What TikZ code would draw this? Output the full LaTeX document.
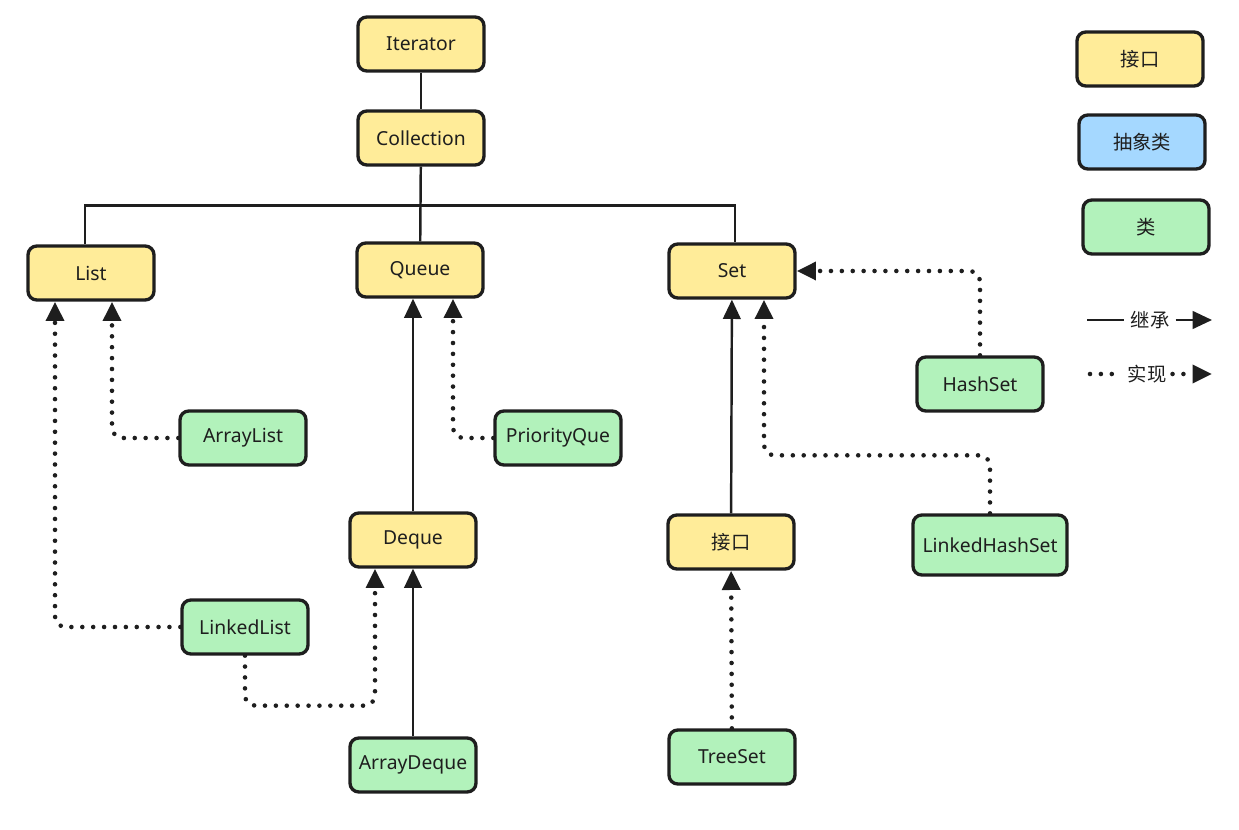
\documentclass[tikz,border=0pt]{standalone}
\usepackage{fontspec}
\setmainfont{Noto Sans}
\newfontfamily\cjk{Noto Sans CJK SC}
\usetikzlibrary{arrows.meta}

\definecolor{ink}{HTML}{1E1E1E}
\definecolor{intfy}{HTML}{FFEC99}
\definecolor{abscb}{HTML}{A5D8FF}
\definecolor{clsg}{HTML}{B2F2BB}

\tikzset{
  box/.style={draw=ink, line width=1.9pt, rounded corners=5pt, minimum width=2.52cm,
    minimum height=1.08cm, text=ink, font=\fontsize{11}{13}\selectfont},
  intf/.style={box, fill=intfy},
  absc/.style={box, fill=abscb},
  cls/.style={box, fill=clsg},
  line/.style={draw=ink, line width=1.4pt},
  inh/.style={line, -{Triangle[length=11pt,width=10pt]}},
  dots/.style={draw=ink, line width=2.6pt, line cap=round, dash pattern=on 0pt off 6.2pt, rounded corners=6pt},
  impl/.style={dots, -{Triangle[length=11pt,width=10pt]}}
}

\begin{document}
\begin{tikzpicture}[x=0.02cm, y=-0.02cm]
  \useasboundingbox (0,0) rectangle (1239,830);
  % interfaces and classes: name/x/y/text
  \foreach \n/\x/\y/\t in {iter/421/44/Iterator, coll/421/138/Collection, list/91/273/List,
      queue/420/270/Queue, set/732/271/Set, deque/413/540/Deque, sif/731/542/{\cjk 接口}}
    {\node[intf] (\n) at (\x,\y) {\t};}
  \foreach \n/\x/\y/\t in {alist/243/438/ArrayList, pque/558/438/PriorityQue, hset/980/384/HashSet,
      llist/245/627/LinkedList, adeque/413/765/ArrayDeque, tset/732/757/TreeSet}
    {\node[cls] (\n) at (\x,\y) {\t};}
  \node[cls, minimum width=3.08cm, minimum height=1.2cm] (lhset) at (990,545) {LinkedHashSet};

  % legend
  \node[intf] (lgintf) at (1140,59) {\cjk 接口};
  \node[absc] (lgabs) at (1142,142) {\cjk 抽象类};
  \node[cls] (lgcls) at (1146,227) {\cjk 类};
  \node[text=ink, font=\fontsize{11}{13}\selectfont\cjk] (inhtxt) at (1150,320) {继承};
  \node[text=ink, font=\fontsize{11}{13}\selectfont\cjk] (imptxt) at (1147,374) {实现};
  \coordinate (inhA) at (1087,320); \coordinate (inhB) at (1212,320);
  \coordinate (impA) at (1090,374); \coordinate (impB) at (1212,374);
  \draw[line] (inhA) -- (inhtxt.west);
  \draw[inh] (inhtxt.east) -- (inhB);
  \draw[dots] (impA) -- (imptxt.west);
  \draw[impl] (imptxt.east) -- (impB);

  % tree
  \draw[line] (iter) -- (coll);
  \draw[line] (coll) -- (queue);
  \draw[line] ([xshift=-0.12cm]list.north) -- ++(0,-39) -| ([xshift=0.06cm]set.north);

  % List
  \draw[impl] (llist.west) -| ([xshift=-0.72cm]list.south);
  \draw[impl] (alist.west) -| ([xshift=0.42cm]list.south);
  % Queue, Deque
  \draw[inh] (deque.north) -- (deque.north |- queue.south);
  \draw[impl] (pque.west) -| ([xshift=0.66cm]queue.south);
  \draw[inh] (adeque) -- (deque);
  \draw[impl] (llist.south) -- ++(0,50) -| ([xshift=-0.76cm]deque.south);
  % Set
  \draw[inh] (sif) -- (set);
  \draw[impl] (hset.north) |- (set.east);
  \draw[impl] (lhset.north) -- ++(0,-58) -| ([xshift=0.64cm]set.south);
  \draw[impl] (tset) -- (sif);
\end{tikzpicture}
\end{document}
